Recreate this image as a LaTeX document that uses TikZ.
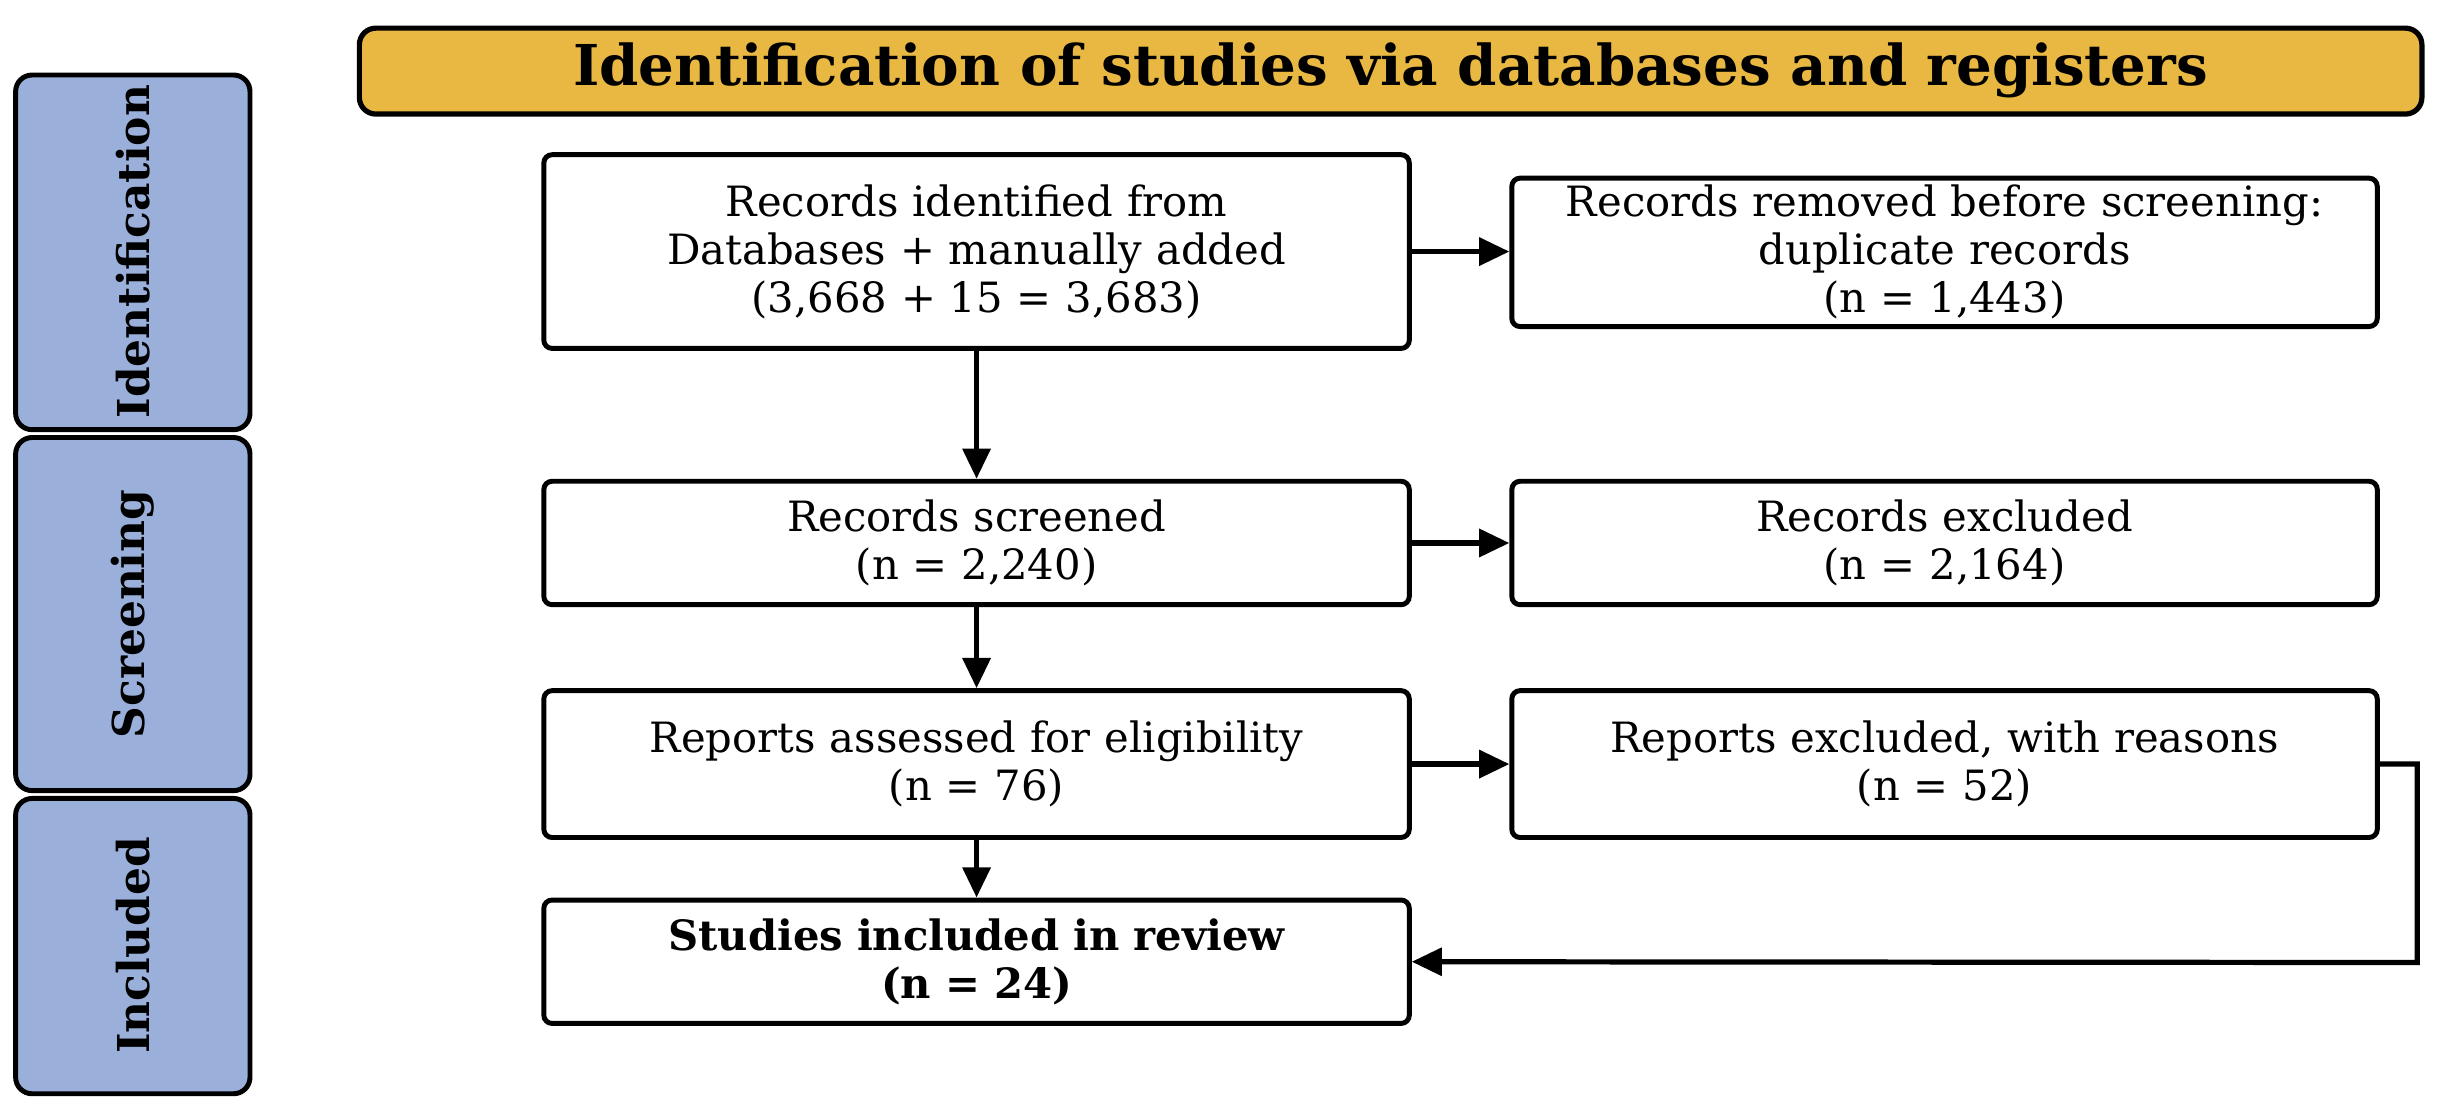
\documentclass[tikz,border=0pt]{standalone}
\usepackage{fontspec}
\setmainfont{DejaVu Serif}
\usetikzlibrary{arrows.meta}
\begin{document}
\begin{tikzpicture}[x=0.02cm,y=-0.02cm,
  box/.style={draw,line width=1.8pt,rounded corners=3pt,fill=white,align=center,inner sep=0pt,text width=11.08cm,font=\fontsize{15.2}{17.5}\selectfont},
  phase/.style={draw,line width=1.8pt,rounded corners=6pt,fill=phaseblue},
  plab/.style={rotate=90,font=\fontsize{16}{18}\selectfont\bfseries},
  arr/.style={line width=1.9pt,-{Triangle[length=11pt,width=10pt]}}]
\definecolor{phaseblue}{HTML}{9AB0DA}
\definecolor{titlegold}{HTML}{E8B842}
\useasboundingbox (0,0) rectangle (1568,714);
\draw[line width=1.9pt,rounded corners=6pt,fill=titlegold] (230,18) rectangle (1550,73);
\node[font=\fontsize{20.5}{24}\selectfont\bfseries] (title) at (890,45) {Identification of studies via databases and registers};
\draw[phase] (10,48) rectangle (160,275);
\node[plab] (p1) at (85,161) {Identification};
\draw[phase] (10,280) rectangle (160,506);
\node[plab] (p2) at (85,393) {Screening};
\draw[phase] (10,511) rectangle (160,700);
\node[plab] (p3) at (85,605) {Included};
\node[box,minimum height=2.48cm] (b1) at (625,161) {Records identified from\\Databases + manually added\\(3,668 + 15 = 3,683)};
\node[box,minimum height=1.58cm] (b2) at (625,347.5) {Records screened\\(n = 2,240)};
\node[box,minimum height=1.88cm] (b3) at (625,489) {Reports assessed for eligibility\\(n = 76)};
\node[box,minimum height=1.58cm,font=\fontsize{15.2}{17.5}\selectfont\bfseries] (b4) at (625,615.5) {Studies included in review\\(n = 24)};
\node[box,minimum height=1.9cm] (r1) at (1244.5,161.5) {Records removed before screening:\\duplicate records\\(n = 1,443)};
\node[box,minimum height=1.58cm] (r2) at (1244.5,347.5) {Records excluded\\(n = 2,164)};
\node[box,minimum height=1.88cm] (r3) at (1244.5,489) {Reports excluded, with reasons\\(n = 52)};
\draw[arr] (b1) -- (b2);
\draw[arr] (b2) -- (b3);
\draw[arr] (b3) -- (b4);
\draw[arr] (b1) -- (r1.west|-b1);
\draw[arr] (b2) -- (r2);
\draw[arr] (b3) -- (r3);
\coordinate (c1) at (1547,489);
\coordinate (c2) at (1547,616);
\draw[arr] (r3.east) -- (c1) -- (c2) -- (b4.east);
\end{tikzpicture}
\end{document}
